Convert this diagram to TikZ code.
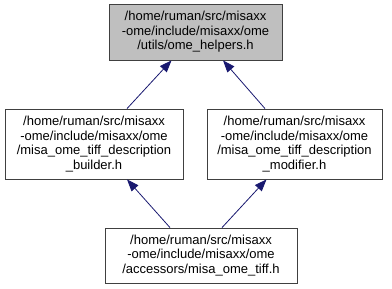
\documentclass[tikz,border=0pt]{standalone}
\usepackage{fontspec}
\setmainfont{Liberation Sans}
\usepackage{tikz}
\usetikzlibrary{arrows.meta, positioning}

\definecolor{edgeblue}{HTML}{191970}
\definecolor{boxgray}{HTML}{BFBFBF}
\definecolor{boxline}{HTML}{404040}

\begin{document}
\begin{tikzpicture}[x=1pt, y=-1pt,
  font=\fontsize{13}{14.5}\selectfont,
  filebox/.style={draw=boxline, line width=0.8pt, align=center, inner sep=0pt},
  edge/.style={draw=edgeblue, line width=0.8pt, -{Triangle[length=12pt,width=9pt]}}]
  \useasboundingbox (0,0) rectangle (392,289);
  % header under inspection
  \node[filebox, fill=boxgray, minimum width=173pt, minimum height=56pt] (helpers) at (195.5,32)
    {/home/ruman/src/misaxx\\-ome/include/misaxx/ome\\/utils/ome\_helpers.h};
  % direct includers
  \node[filebox, minimum width=178pt, minimum height=70pt] (builder) at (94,144)
    {/home/ruman/src/misaxx\\-ome/include/misaxx/ome\\/misa\_ome\_tiff\_description\\\_builder.h};
  \node[filebox, minimum width=175pt, minimum height=70pt] (modifier) at (294.5,144)
    {/home/ruman/src/misaxx\\-ome/include/misaxx/ome\\/misa\_ome\_tiff\_description\\\_modifier.h};
  % indirect includer
  \node[filebox, minimum width=192pt, minimum height=55pt] (tiff) at (201,255.5)
    {/home/ruman/src/misaxx\\-ome/include/misaxx/ome\\/accessors/misa\_ome\_tiff.h};
  \draw[edge] ([xshift=33pt]builder.north) -- ([xshift=-24pt]helpers.south);
  \draw[edge] ([xshift=-29.5pt]modifier.north) -- ([xshift=27.5pt]helpers.south);
  \draw[edge] ([xshift=-31pt]tiff.north) -- ([xshift=33pt]builder.south);
  \draw[edge] ([xshift=21pt]tiff.north) -- ([xshift=-28pt]modifier.south);
\end{tikzpicture}
\end{document}
